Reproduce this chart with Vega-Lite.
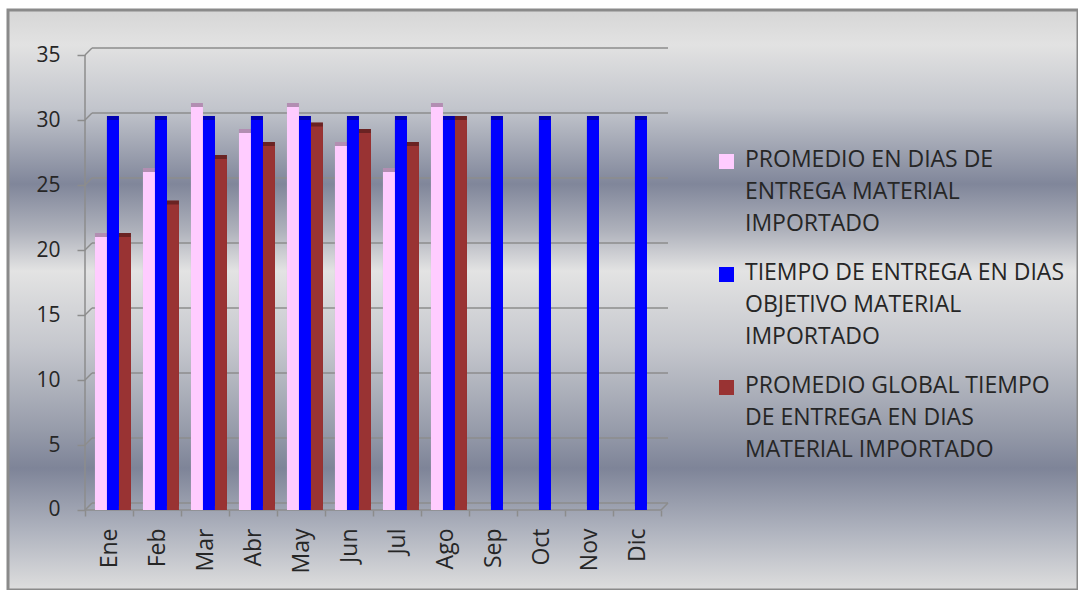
{
  "$schema": "https://vega.github.io/schema/vega-lite/v6.json",
  "width": 1070,
  "height": 580,
  "autosize": {"type": "none"},
  "padding": {"left": 8, "top": 10, "right": 0, "bottom": 0},
  "background": "#ffffff",
  "config": {
    "font": "Open Sans",
    "view": {
      "fill": {
        "gradient": "linear",
        "x1": 0, "y1": 0, "x2": 0, "y2": 1,
        "stops": [
          {"offset": 0, "color": "#d6d6d6"},
          {"offset": 0.06, "color": "#e2e2e2"},
          {"offset": 0.17, "color": "#c2c5cc"},
          {"offset": 0.3, "color": "#80869a"},
          {"offset": 0.38, "color": "#aeb1bb"},
          {"offset": 0.45, "color": "#e3e3e3"},
          {"offset": 0.58, "color": "#c5c7cd"},
          {"offset": 0.72, "color": "#989dab"},
          {"offset": 0.79, "color": "#7e8498"},
          {"offset": 0.9, "color": "#b0b4bf"},
          {"offset": 1, "color": "#dedede"}
        ]
      },
      "stroke": "#8a8a8a",
      "strokeWidth": 3
    }
  },
  "datasets": {
    "entregas": [
      {"mes": "Ene", "serie": "P", "valor": 21},
      {"mes": "Ene", "serie": "O", "valor": 30},
      {"mes": "Ene", "serie": "G", "valor": 21},
      {"mes": "Feb", "serie": "P", "valor": 26},
      {"mes": "Feb", "serie": "O", "valor": 30},
      {"mes": "Feb", "serie": "G", "valor": 23.5},
      {"mes": "Mar", "serie": "P", "valor": 31},
      {"mes": "Mar", "serie": "O", "valor": 30},
      {"mes": "Mar", "serie": "G", "valor": 27},
      {"mes": "Abr", "serie": "P", "valor": 29},
      {"mes": "Abr", "serie": "O", "valor": 30},
      {"mes": "Abr", "serie": "G", "valor": 28},
      {"mes": "May", "serie": "P", "valor": 31},
      {"mes": "May", "serie": "O", "valor": 30},
      {"mes": "May", "serie": "G", "valor": 29.5},
      {"mes": "Jun", "serie": "P", "valor": 28},
      {"mes": "Jun", "serie": "O", "valor": 30},
      {"mes": "Jun", "serie": "G", "valor": 29},
      {"mes": "Jul", "serie": "P", "valor": 26},
      {"mes": "Jul", "serie": "O", "valor": 30},
      {"mes": "Jul", "serie": "G", "valor": 28},
      {"mes": "Ago", "serie": "P", "valor": 31},
      {"mes": "Ago", "serie": "O", "valor": 30},
      {"mes": "Ago", "serie": "G", "valor": 30},
      {"mes": "Sep", "serie": "O", "valor": 30},
      {"mes": "Oct", "serie": "O", "valor": 30},
      {"mes": "Nov", "serie": "O", "valor": 30},
      {"mes": "Dic", "serie": "O", "valor": 30}
    ],
    "niveles": [
      {"v": 0}, {"v": 5}, {"v": 10}, {"v": 15}, {"v": 20}, {"v": 25}, {"v": 30}, {"v": 35}
    ],
    "marco": [{}]
  },
  "layer": [
    {
      "data": {"name": "niveles"},
      "mark": {"type": "rule", "color": "#8c8c8c", "strokeWidth": 1.5, "x2Offset": 7, "y2Offset": -7},
      "encoding": {
        "x": {"datum": "Ene", "type": "ordinal", "bandPosition": 0},
        "x2": {"datum": "Ene", "bandPosition": 0},
        "y": {"field": "v", "type": "quantitative"},
        "y2": {"field": "v"}
      }
    },
    {
      "data": {"name": "niveles"},
      "mark": {"type": "rule", "color": "#8c8c8c", "strokeWidth": 1.5, "xOffset": 7, "x2Offset": 7, "yOffset": -7},
      "encoding": {
        "x": {"datum": "Ene", "type": "ordinal", "bandPosition": 0},
        "x2": {"datum": "Dic", "bandPosition": 1},
        "y": {"field": "v", "type": "quantitative"}
      }
    },
    {
      "data": {"name": "marco"},
      "mark": {"type": "rule", "color": "#8c8c8c", "strokeWidth": 1.5},
      "encoding": {
        "x": {"datum": "Ene", "type": "ordinal", "bandPosition": 0},
        "y": {"datum": 0, "type": "quantitative"},
        "y2": {"datum": 35}
      }
    },
    {
      "data": {"name": "marco"},
      "mark": {"type": "rule", "color": "#8c8c8c", "strokeWidth": 1.5},
      "encoding": {
        "x": {"datum": "Ene", "type": "ordinal", "bandPosition": 0},
        "x2": {"datum": "Dic", "bandPosition": 1},
        "y": {"datum": 0, "type": "quantitative"}
      }
    },
    {
      "data": {"name": "marco"},
      "mark": {"type": "rule", "color": "#8c8c8c", "strokeWidth": 1.5, "x2Offset": 7, "y2Offset": -7},
      "encoding": {
        "x": {"datum": "Dic", "type": "ordinal", "bandPosition": 1},
        "x2": {"datum": "Dic", "bandPosition": 1},
        "y": {"datum": 0, "type": "quantitative"},
        "y2": {"datum": 0}
      }
    },
    {
      "data": {"name": "entregas"},
      "mark": {"type": "bar", "xOffset": 4, "yOffset": -4, "y2Offset": -4},
      "encoding": {
        "x": {"field": "mes", "type": "ordinal"},
        "xOffset": {"field": "serie", "type": "nominal", "scale": {"domain": ["P", "O", "G"], "paddingInner": 0, "paddingOuter": 0.5, "align": 0.83}},
        "y": {"field": "valor", "type": "quantitative"},
        "y2": {"datum": 0},
        "color": {"field": "serie", "type": "nominal"}
      }
    },
    {
      "data": {"name": "entregas"},
      "mark": {"type": "bar", "xOffset": 4, "yOffset": -4, "y2Offset": -4, "color": "#000000", "opacity": 0.3},
      "encoding": {
        "x": {"field": "mes", "type": "ordinal"},
        "xOffset": {"field": "serie", "type": "nominal", "scale": {"domain": ["P", "O", "G"], "paddingInner": 0, "paddingOuter": 0.5, "align": 0.83}},
        "y": {"field": "valor", "type": "quantitative"},
        "y2": {"datum": 0}
      }
    },
    {
      "data": {"name": "entregas"},
      "mark": {"type": "bar"},
      "encoding": {
        "x": {
          "field": "mes",
          "type": "ordinal",
          "scale": {
            "domain": ["Ene", "Feb", "Mar", "Abr", "May", "Jun", "Jul", "Ago", "Sep", "Oct", "Nov", "Dic"],
            "range": [77, 653],
            "paddingInner": 0,
            "paddingOuter": 0
          },
          "axis": {
            "title": null,
            "orient": "bottom",
            "offset": -80,
            "domain": false,
            "grid": false,
            "tickBand": "extent",
            "tickSize": 6,
            "tickColor": "#8c8c8c",
            "tickWidth": 1.5,
            "labelAngle": -90,
            "labelAlign": "right",
            "labelBaseline": "middle",
            "labelFont": "Open Sans",
            "labelFontSize": 23,
            "labelColor": "#262626",
            "labelPadding": 12
          }
        },
        "xOffset": {"field": "serie", "type": "nominal", "scale": {"domain": ["P", "O", "G"], "paddingInner": 0, "paddingOuter": 0.5, "align": 0.83}},
        "y": {
          "field": "valor",
          "type": "quantitative",
          "scale": {"domain": [-6.154, 38.462], "nice": false, "zero": false},
          "axis": {
            "title": null,
            "values": [0, 5, 10, 15, 20, 25, 30, 35],
            "offset": -77,
            "domain": false,
            "grid": false,
            "tickSize": 8,
            "tickColor": "#8c8c8c",
            "tickWidth": 1.5,
            "labelFont": "Open Sans",
            "labelFontSize": 21,
            "labelColor": "#262626",
            "labelPadding": 17
          }
        },
        "y2": {"datum": 0},
        "color": {
          "field": "serie",
          "type": "nominal",
          "scale": {"domain": ["P", "O", "G"], "range": ["#ffccff", "#0000ff", "#993333"]},
          "legend": {
            "title": null,
            "orient": "none",
            "legendX": 707,
            "legendY": 140,
            "padding": 0,
            "symbolType": "square",
            "symbolSize": 225,
            "symbolStrokeWidth": 0,
            "labelFont": "Open Sans",
            "labelFontSize": 23,
            "labelColor": "#262626",
            "labelOffset": 7,
            "labelLimit": 400,
            "labelBaseline": "top",
            "rowPadding": 25,
            "labelExpr": "datum.value == 'P' ? ['PROMEDIO EN  DIAS DE', 'ENTREGA MATERIAL', 'IMPORTADO'] : datum.value == 'O' ? ['TIEMPO DE ENTREGA  EN DIAS', 'OBJETIVO MATERIAL', 'IMPORTADO'] : ['PROMEDIO GLOBAL TIEMPO', 'DE ENTREGA EN DIAS', 'MATERIAL IMPORTADO']",
            "encode": {
              "labels": {"update": {"lineHeight": {"value": 32}, "dy": {"value": -13}}}
            }
          }
        }
      }
    }
  ]
}
